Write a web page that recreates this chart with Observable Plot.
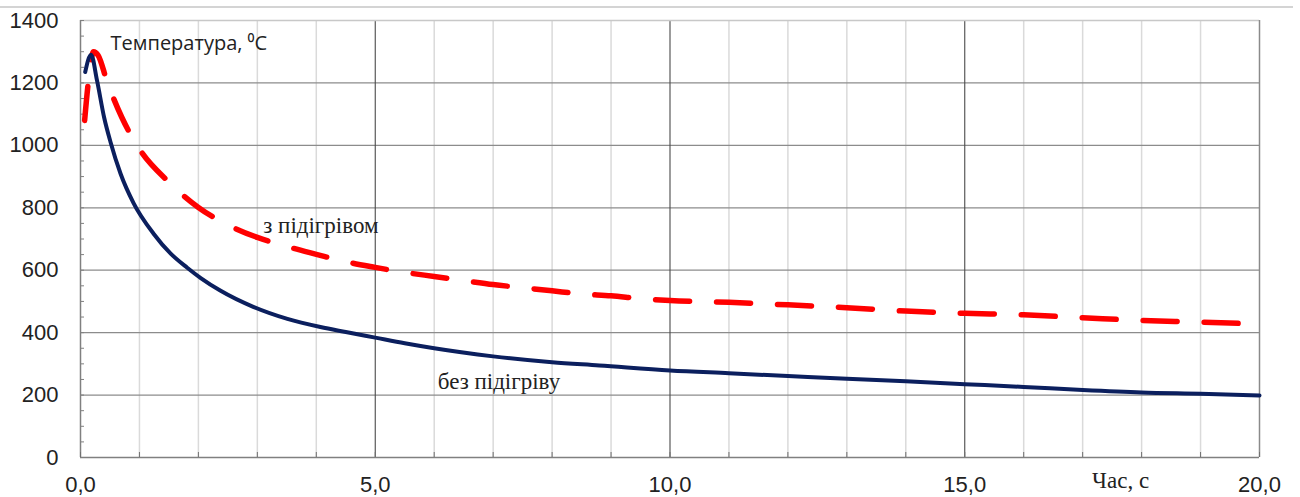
<!DOCTYPE html>
<html>
<head>
<meta charset="utf-8">
<script src="https://cdn.jsdelivr.net/npm/d3@7"></script>
<script src="https://cdn.jsdelivr.net/npm/@observablehq/plot@0.6"></script>
<style>
  html, body { margin: 0; padding: 0; background: #fff; }
  #wrap { position: relative; width: 1300px; height: 497px; }
  #topline { position: absolute; left: 0; top: 6px; width: 1293px; height: 2px; background: #d4d4d4; }
</style>
</head>
<body>
<div id="wrap"><div id="topline"></div></div>
<script>
// ---- data ----
const timeBez = [0.08, 0.18, 0.28, 0.40, 0.51, 0.68, 0.90, 1.24, 1.53, 1.81, 2.04, 2.37, 2.94, 3.51, 4.07, 4.5, 5.0, 5.5, 6.0, 7.0, 8.0, 8.8, 10.0, 11.0, 12.0, 13.0, 14.0, 15.0, 16.0, 17.0, 18.0, 19.0, 20.0];
const tempBez = [1235, 1290, 1208, 1090, 1010, 909, 815, 717, 653, 608, 575, 535, 482, 444, 418, 402, 384, 366, 350, 324, 305, 295, 279, 270, 261, 252, 244, 235, 226, 216, 208, 204, 199];

const timeZ = [0.07, 0.15, 0.22, 0.30, 0.45, 0.70, 1.0, 1.5, 2.0, 2.5, 3.0, 3.5, 4.0, 4.5, 5.0, 5.5, 6.0, 6.5, 7.0, 7.5, 8.0, 8.5, 9.0, 9.5, 10.0, 11.0, 12.0, 13.0, 14.0, 15.0, 16.0, 17.0, 18.0, 19.0, 19.9];
const tempZ = [1080, 1230, 1300, 1288, 1205, 1090, 988, 882, 801, 745, 705, 676, 651, 627, 609, 593, 580, 567, 554, 544, 534, 524, 518, 509, 503, 497, 489, 480, 469, 462, 457, 448, 439, 434, 428];

const xTicks = [0, 5, 10, 15, 20];
const xMinor = [1, 2, 3, 4, 6, 7, 8, 9, 11, 12, 13, 14, 16, 17, 18, 19];
const xMajorGrid = [5, 10, 15];
const yTicks = [0, 200, 400, 600, 800, 1000, 1200, 1400];
const yGrid = [200, 400, 600, 800, 1000, 1200];
const yMinorTicks = d3.range(0, 1401, 50);
const xSmallTicks = d3.range(0, 21, 1);

const labelAxisY = "Температура, ⁰C";
const labelAxisX = "Час, с";
const labelZ = "з підігрівом";
const labelBez = "без підігріву";

const bez = timeBez.map((t, i) => ({t, v: tempBez[i]}));
const withHeat = timeZ.map((t, i) => ({t, v: tempZ[i]}));

const fmtX = d => d.toFixed(1).replace(".", ",");
const fmtY = d => String(d);
const serif = "'Liberation Serif', 'Times New Roman', serif";

const chart = Plot.plot({
  width: 1300,
  height: 497,
  marginLeft: 80,
  marginRight: 41,
  marginTop: 20,
  marginBottom: 40,
  style: {fontFamily: "'Liberation Sans', Arial, sans-serif", fontSize: "22px", color: "#222", background: "transparent"},
  x: {domain: [0, 20]},
  y: {domain: [0, 1400]},
  marks: [
    Plot.ruleX(xMinor, {stroke: "#dadada", strokeWidth: 1.5}),
    Plot.ruleY(yGrid, {stroke: "#8c8c8c", strokeWidth: 1.3}),
    Plot.ruleX(xMajorGrid, {stroke: "#4a4a4a", strokeWidth: 1.1}),
    Plot.ruleY([1400], {stroke: "#c8c8c8", strokeWidth: 1.5}),
    Plot.ruleX([20], {stroke: "#8a8a8a", strokeWidth: 1.5}),
    Plot.ruleX([0], {stroke: "#808080", strokeWidth: 1.5}),
    Plot.ruleY([0], {stroke: "#808080", strokeWidth: 1.5}),
    Plot.axisY({ticks: yMinorTicks, tickSize: 4, dx: 4, tickFormat: () => "", label: null, stroke: "#808080"}),
    Plot.axisX({ticks: xSmallTicks, tickSize: 5, dy: -5, tickFormat: () => "", label: null, stroke: "#707070"}),
    Plot.axisY({ticks: yTicks, tickSize: 0, tickPadding: 22, tickFormat: fmtY, label: null, fontSize: 22}),
    Plot.axisX({ticks: xTicks, tickSize: 0, tickPadding: 19, tickFormat: fmtX, label: null, fontSize: 22}),
    Plot.line(withHeat, {x: "t", y: "v", stroke: "#ff0000", strokeWidth: 5.5, strokeDasharray: "34,27", strokeLinecap: "round", curve: "monotone-x"}),
    Plot.line(bez, {x: "t", y: "v", stroke: "#0b1f5e", strokeWidth: 4, curve: "monotone-x"}),
    Plot.text([labelAxisY], {x: 0.51, y: 1326, textAnchor: "start", fontSize: 20, fontFamily: "'Open Sans', 'Noto Sans', sans-serif", fill: "#222"}),
    Plot.text([labelZ], {x: 3.1, y: 743, textAnchor: "start", fontSize: 23, fontFamily: serif, fill: "#222"}),
    Plot.text([labelBez], {x: 6.06, y: 243, textAnchor: "start", fontSize: 23, fontFamily: serif, fill: "#222"}),
    Plot.text([labelAxisX], {x: 17.16, y: -74, textAnchor: "start", fontSize: 23, fontFamily: serif, fill: "#222"})
  ]
});
document.getElementById("wrap").insertBefore(chart, document.getElementById("topline"));
chart.style.position = "absolute";
chart.style.left = "0";
chart.style.top = "0";
</script>
</body>
</html>
